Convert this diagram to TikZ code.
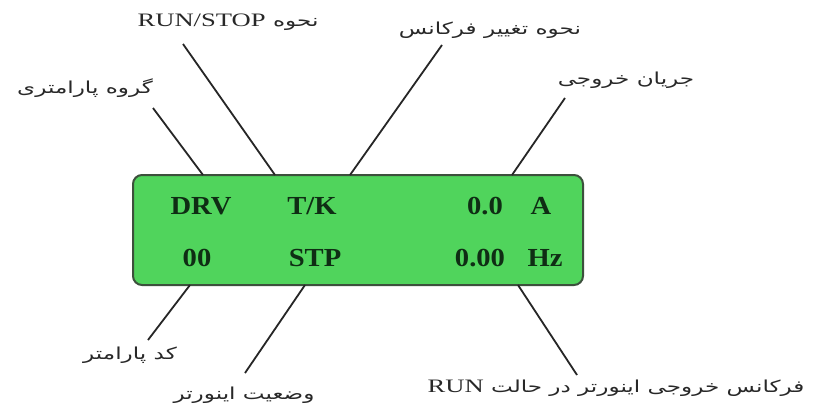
\documentclass[tikz,border=0pt]{standalone}
\usepackage{fontspec}
\TeXXeTstate=1
\newfontfamily\fa[Script=Arabic,FakeStretch=1.4]{DejaVu Sans}
\newfontfamily\lserw[FakeStretch=1.4]{Liberation Serif}
\newfontfamily\lserb[FakeStretch=1.1]{Liberation Serif Bold}
\definecolor{lcdgreen}{RGB}{80,212,92}
\definecolor{lcdborder}{RGB}{60,80,60}
\definecolor{lcdtext}{RGB}{15,45,20}
\definecolor{labelgray}{RGB}{40,40,40}
\begin{document}
\begin{tikzpicture}[x=1pt,y=-1pt,
  lcd/.style={draw=lcdborder,line width=2pt,fill=lcdgreen,rounded corners=9pt,minimum width=450pt,minimum height=110pt,inner sep=0pt},
  lcdtxt/.style={text=lcdtext,font=\lserb\fontsize{26}{26}\selectfont,inner sep=0pt,anchor=center},
  falabel/.style={text=labelgray,font=\fa\fontsize{16.5}{18}\selectfont,inner sep=1pt},
  lead/.style={draw=black!85,line width=1.8pt}]
\useasboundingbox (0,0) rectangle (819,409);
\fill[white] (0,0) rectangle (819,409);
% LCD box
\node[lcd] (box) at (358,230) {};
% texts in box
\node[lcdtxt] (drv) at (201,206) {DRV};
\node[lcdtxt] (tk) at (312,206) {T/K};
\node[lcdtxt] (cur) at (485,206) {0.0};
\node[lcdtxt] (amp) at (541,206) {A};
\node[lcdtxt] (code) at (197,258) {00};
\node[lcdtxt] (stp) at (315,258) {STP};
\node[lcdtxt] (freq) at (480,258) {0.00};
\node[lcdtxt] (hz) at (545,258) {Hz};
% labels
\node[falabel] (lrun) at (228,22) {\beginR نحوه {\lserw\fontsize{19}{19}\selectfont\beginL RUN/STOP\endL}\endR};
\node[falabel] (lfch) at (490,30) {\beginR نحوه تغییر فرکانس\endR};
\node[falabel] (lgrp) at (85,88) {\beginR گروه پارامتری\endR};
\node[falabel] (lcur) at (626,80) {\beginR جریان خروجی\endR};
\node[falabel] (lcode) at (130,355) {\beginR کد پارامتر\endR};
\node[falabel] (lstat) at (244,395) {\beginR وضعیت اینورتر\endR};
\node[falabel] (lrfq) at (616,388) {\beginR فرکانس خروجی اینورتر در حالت {\lserw\fontsize{19}{19}\selectfont\beginL RUN\endL}\endR};
% connector ends
\coordinate (g1) at (153,108);
\coordinate (g2) at (203,175);
\coordinate (r1) at (183,44);
\coordinate (r2) at (275,175);
\coordinate (f1) at (442,45);
\coordinate (f2) at (350,175);
\coordinate (c1) at (565,98);
\coordinate (c2) at (512,175);
\coordinate (k1) at (148,340);
\coordinate (k2) at (190,285);
\coordinate (s1) at (245,373);
\coordinate (s2) at (305,285);
\coordinate (q1) at (577,375);
\coordinate (q2) at (518,285);
\draw[lead] (g1) -- (g2);
\draw[lead] (r1) -- (r2);
\draw[lead] (f1) -- (f2);
\draw[lead] (c1) -- (c2);
\draw[lead] (k1) -- (k2);
\draw[lead] (s1) -- (s2);
\draw[lead] (q1) -- (q2);
\end{tikzpicture}
\end{document}
